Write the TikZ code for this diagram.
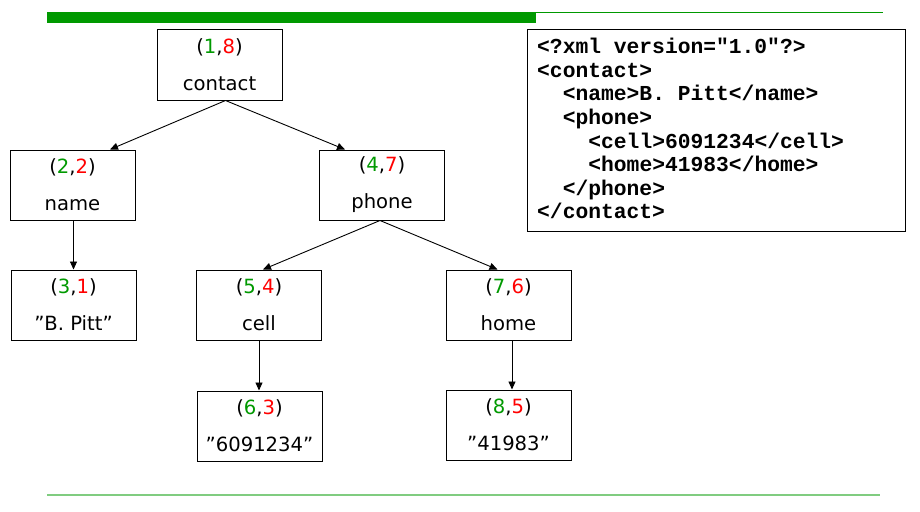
\documentclass[tikz,border=0pt]{standalone}
\usepackage{fontspec}
\setmainfont{DejaVu Sans}[Ligatures=ResetAll]
\newfontfamily\codefont{Liberation Mono}[Ligatures=ResetAll]
\usetikzlibrary{arrows.meta}
\definecolor{gbar}{RGB}{0,153,0}
\definecolor{gline}{RGB}{128,204,128}
\definecolor{ngreen}{RGB}{0,153,0}
\definecolor{nred}{RGB}{255,0,0}
\newcommand{\pr}[2]{(\textcolor{ngreen}{#1},\textcolor{nred}{#2})}
\newcommand{\dq}{\symbol{34}}
\tikzset{
  treebox/.style={draw=black, line width=1pt, minimum width=125pt, minimum height=70pt, inner sep=0pt, align=center, font=\fontsize{19.6}{37}\selectfont},
  conn/.style={draw=black, line width=0.9pt, -{Triangle[length=8pt,width=7pt]}}
}
\begin{document}
\begin{tikzpicture}[x=1pt,y=-1pt]
\useasboundingbox (0,0) rectangle (920,511);
% header bars
\fill[gbar] (47,12) rectangle (536,23);
\fill[gbar] (536,12) rectangle (883,13.5);
% bottom line
\fill[gline] (47,494) rectangle (880,496);
% tree nodes
\node[treebox] (contact) at (219.5,65) {\pr{1}{8}\\contact};
\node[treebox] (name) at (72.5,185) {\pr{2}{2}\\name};
\node[treebox] (phone) at (382,185) {\pr{4}{7}\\phone};
\node[treebox] (pitt) at (73.5,305) {\pr{3}{1}\\\dq B. Pitt\dq};
\node[treebox] (cell) at (259,305) {\pr{5}{4}\\cell};
\node[treebox] (home) at (508.5,305) {\pr{7}{6}\\home};
\node[treebox] (cellv) at (259.5,426) {\pr{6}{3}\\\dq 6091234\dq};
\node[treebox] (homev) at (508.5,425) {\pr{8}{5}\\\dq 41983\dq};
% connectors
\draw[conn] ([xshift=6pt]contact.south) -- ([xshift=37.5pt]name.north);
\draw[conn] ([xshift=6pt]contact.south) -- ([xshift=-37pt]phone.north);
\draw[conn] ([xshift=1pt]name.south) -- (pitt.north);
\draw[conn] ([xshift=-2pt]phone.south) -- ([xshift=4pt]cell.north);
\draw[conn] ([xshift=-2pt]phone.south) -- ([xshift=-11pt]home.north);
\draw[conn] (cell.south) -- ([xshift=-0.5pt]cellv.north);
\draw[conn] ([xshift=3.5pt]home.south) -- ([xshift=3.5pt]homev.north);
% XML code box
\draw[line width=1pt] (527,30) rectangle (905,231);
\node[anchor=north west, inner sep=0pt, align=left, font=\codefont\bfseries\fontsize{21.3}{23.6}\selectfont] (code) at (537,38) {%
<?xml version=\dq 1.0\dq?>\\
<contact>\\
\hspace*{25.6pt}<name>B. Pitt</name>\\
\hspace*{25.6pt}<phone>\\
\hspace*{51.2pt}<cell>6091234</cell>\\
\hspace*{51.2pt}<home>41983</home>\\
\hspace*{25.6pt}</phone>\\
</contact>};
\end{tikzpicture}
\end{document}
